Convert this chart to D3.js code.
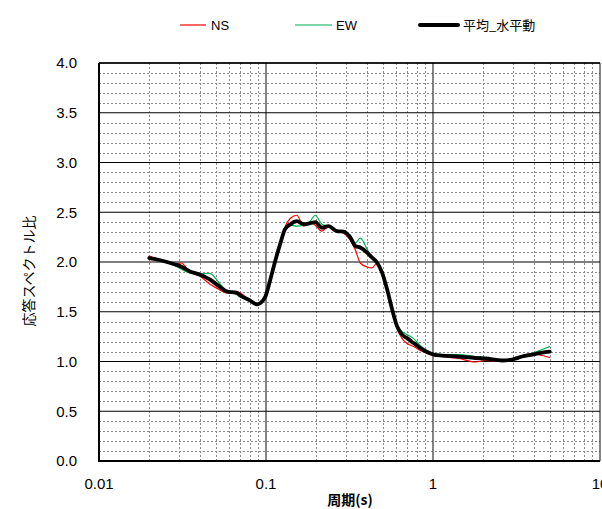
<!DOCTYPE html>
<html><head><meta charset="utf-8">
<script src="https://cdn.jsdelivr.net/npm/d3@7"></script>
<style>html,body{margin:0;padding:0;background:#fff;}svg{display:block;}</style>
</head><body>
<svg id="c" width="602" height="509"></svg>
<script>
const periods = [0.020,0.023,0.028,0.031,0.035,0.040,0.046,0.053,0.058,0.067,0.070,0.080,0.088,0.096,0.099,0.106,0.114,0.122,0.130,0.140,0.153,0.168,0.184,0.197,0.216,0.237,0.266,0.292,0.320,0.343,0.367,0.403,0.431,0.462,0.495,0.531,0.569,0.609,0.653,0.700,0.766,0.840,0.922,1.01,1.134,1.426,1.796,2.06,2.596,2.98,3.42,3.93,4.51,5.0];
const nsValues = [2.06,2.02,1.98,1.99,1.90,1.86,1.78,1.72,1.69,1.70,1.69,1.61,1.575,1.61,1.64,1.80,2.00,2.18,2.35,2.44,2.47,2.36,2.40,2.37,2.31,2.36,2.31,2.29,2.22,2.12,1.99,1.95,1.94,1.99,1.89,1.71,1.51,1.33,1.23,1.18,1.15,1.11,1.08,1.06,1.05,1.03,0.995,1.01,1.00,1.02,1.06,1.08,1.06,1.04];
const ewValues = [2.04,2.01,1.97,1.93,1.89,1.88,1.885,1.78,1.71,1.67,1.65,1.62,1.58,1.60,1.64,1.84,2.05,2.21,2.32,2.37,2.36,2.37,2.41,2.47,2.38,2.36,2.32,2.30,2.27,2.19,2.24,2.13,2.04,2.00,1.90,1.74,1.54,1.37,1.30,1.27,1.23,1.16,1.11,1.08,1.07,1.07,1.05,1.04,1.01,1.02,1.05,1.08,1.12,1.15];
const meanValues = [2.04,2.02,1.98,1.955,1.905,1.875,1.825,1.75,1.705,1.69,1.665,1.615,1.575,1.615,1.65,1.82,2.02,2.19,2.33,2.38,2.41,2.38,2.39,2.40,2.345,2.36,2.31,2.305,2.245,2.16,2.145,2.095,2.045,1.995,1.895,1.725,1.525,1.355,1.27,1.235,1.185,1.135,1.095,1.07,1.06,1.05,1.035,1.03,1.01,1.02,1.05,1.07,1.09,1.10];
const xTickValues = [0.01,0.1,1,10];
const xTickLabels = ["0.01","0.1","1","10"];
const yTickValues = [0,0.5,1,1.5,2,2.5,3,3.5,4];
const yTickLabels = ["0.0","0.5","1.0","1.5","2.0","2.5","3.0","3.5","4.0"];
const seriesNames = ["NS","EW","平均_水平動"];
const xTitle = "周期(s)";
const yTitle = "応答スペクトル比";

const svg = d3.select("#c");
const L = 99, R = 600, T = 63, B = 461;
const x = d3.scaleLog().domain([0.01,10]).range([L,R]);
const y = d3.scaleLinear().domain([0,4]).range([B,T]);
const font = "'Liberation Sans', Arial, sans-serif";
const jfont = "'Noto Sans CJK JP', sans-serif";

const g = svg.append("g");
// minor grid
const minorX = [];
[0.01,0.1,1].forEach(d => { for (let k=2;k<=9;k++) minorX.push(d*k); });
const minorY = d3.range(0,41).map(i=>i/10).filter(v => Math.abs(v*2-Math.round(v*2))>1e-6);
g.selectAll(".mx").data(minorX).enter().append("line")
  .attr("x1",d=>Math.round(x(d))+0.5).attr("x2",d=>Math.round(x(d))+0.5).attr("y1",T).attr("y2",B)
  .attr("stroke","#8a8a8a").attr("stroke-width",1).attr("stroke-dasharray","2,2");
g.selectAll(".my").data(minorY).enter().append("line")
  .attr("x1",L).attr("x2",R).attr("y1",d=>Math.round(y(d))+0.5).attr("y2",d=>Math.round(y(d))+0.5)
  .attr("stroke","#8a8a8a").attr("stroke-width",1).attr("stroke-dasharray","2,2");
// major grid
g.selectAll(".Mx").data(xTickValues).enter().append("line")
  .attr("x1",d=>x(d)).attr("x2",d=>x(d)).attr("y1",T).attr("y2",B)
  .attr("stroke","#333").attr("stroke-width",1.2);
g.selectAll(".My").data(yTickValues).enter().append("line")
  .attr("x1",L).attr("x2",R).attr("y1",d=>y(d)).attr("y2",d=>y(d))
  .attr("stroke","#000").attr("stroke-width",1.2);
// axes lines
g.append("line").attr("x1",L).attr("x2",L).attr("y1",T).attr("y2",B).attr("stroke","#000").attr("stroke-width",2);
g.append("line").attr("x1",L-1).attr("x2",R).attr("y1",B).attr("y2",B).attr("stroke","#000").attr("stroke-width",2);
g.append("line").attr("x1",L).attr("x2",R).attr("y1",T).attr("y2",T).attr("stroke","#000").attr("stroke-width",1.5);

// tick labels
g.selectAll(".yl").data(yTickValues).enter().append("text")
  .attr("x",77).attr("y",d=>y(d)).attr("dy","0.36em").attr("text-anchor","end")
  .attr("font-family",font).attr("font-size",15).attr("fill","#000")
  .text((d,i)=>yTickLabels[i]);
g.selectAll(".xl").data(xTickValues).enter().append("text")
  .attr("x",d=>x(d)).attr("y",489).attr("text-anchor","middle")
  .attr("font-family",font).attr("font-size",15).attr("fill","#000")
  .text((d,i)=>xTickLabels[i]);

// titles
svg.append("text").attr("x",350).attr("y",505).attr("text-anchor","middle")
  .attr("font-family",jfont).attr("font-size",14).attr("font-weight","bold").text(xTitle);
svg.append("text").attr("transform","translate(34,271) rotate(-90)").attr("text-anchor","middle")
  .attr("font-family",jfont).attr("font-size",14).text(yTitle);

// series
const line = d3.line().x(d=>x(d[0])).y(d=>y(d[1])).curve(d3.curveMonotoneX);
const series = [
  {name:seriesNames[0], vals:nsValues, color:"#ff0000", w:1.2},
  {name:seriesNames[1], vals:ewValues, color:"#00b050", w:1.2},
  {name:seriesNames[2], vals:meanValues, color:"#000000", w:3.8}
];
series.forEach(s => {
  svg.append("path").datum(periods.map((p,i)=>[p,s.vals[i]]))
    .attr("d",line).attr("fill","none").attr("stroke",s.color).attr("stroke-width",s.w)
    .attr("stroke-linejoin","round").attr("stroke-linecap","round");
});

// legend
const leg = [
  {x1:180,x2:206,tx:211},
  {x1:295,x2:332,tx:336},
  {x1:420,x2:458,tx:463}
];
series.forEach((s,i) => {
  svg.append("line").attr("x1",leg[i].x1).attr("x2",leg[i].x2).attr("y1",25).attr("y2",25)
    .attr("stroke",s.color).attr("stroke-width",i===2?4:1.2).attr("stroke-linecap",i===2?"round":"butt");
  svg.append("text").attr("x",leg[i].tx).attr("y",25).attr("dy","0.36em")
    .attr("font-family", i===2?jfont:font).attr("font-size",13).text(s.name);
});
</script>
</body></html>
